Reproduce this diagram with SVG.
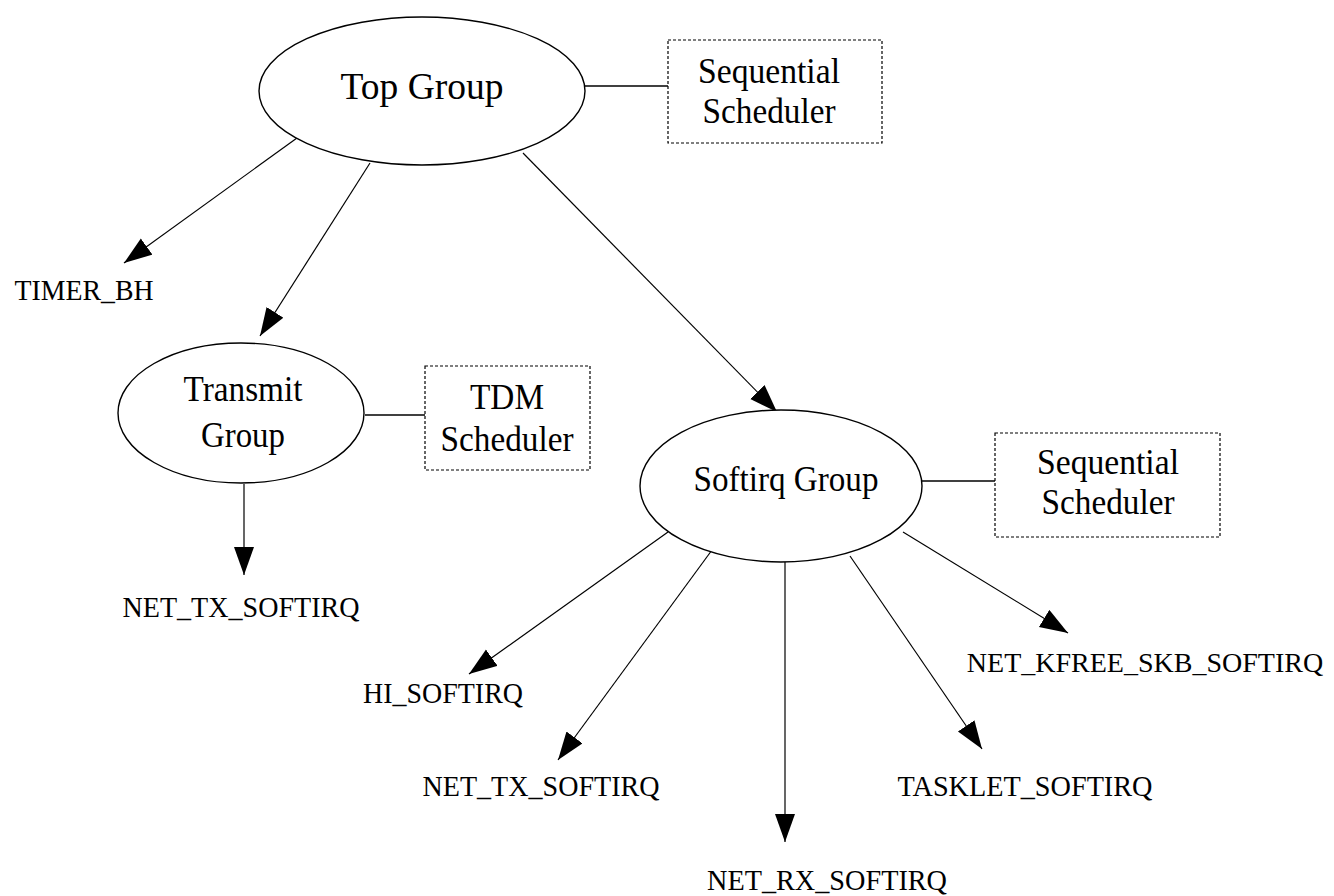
<svg xmlns="http://www.w3.org/2000/svg" width="1334" height="896" viewBox="0 0 1334 896">
  <style>
    .grp { fill: #ffffff; stroke: #000000; stroke-width: 1.4; }
    .sched { fill: #ffffff; stroke: #000000; stroke-width: 1.2; stroke-dasharray: 3 2; }
    .big { font-family: "Liberation Serif", "Times New Roman", serif; font-size: 36px; fill: #000000; text-anchor: middle; }
    .lbl { font-family: "Liberation Serif", "Times New Roman", serif; font-size: 30px; fill: #000000; text-anchor: middle; }
    .edge { stroke: #000000; stroke-width: 1.2; fill: none; marker-end: url(#arrow); }
    .link { stroke: #000000; stroke-width: 1.3; fill: none; }
  </style>
  <defs>
    <marker id="arrow" markerUnits="userSpaceOnUse" markerWidth="30" markerHeight="22" refX="28" refY="10" orient="auto">
      <path d="M0,0 L28,10 L0,20 Z" fill="#000000"/>
    </marker>
  </defs>
  <rect width="1334" height="896" fill="#ffffff"/>

  <!-- connectors: arrows to children, plain lines to schedulers -->
  <g id="connectors">
    <line class="edge" x1="297" y1="138" x2="124" y2="263"/>
    <line class="edge" x1="370" y1="163" x2="260" y2="336"/>
    <line class="edge" x1="523" y1="153" x2="777" y2="412"/>
    <line class="edge" x1="244" y1="484" x2="244" y2="575"/>
    <line class="edge" x1="668" y1="532" x2="469" y2="674"/>
    <line class="edge" x1="712" y1="550" x2="558" y2="760"/>
    <line class="edge" x1="785" y1="562" x2="785" y2="842"/>
    <line class="edge" x1="850" y1="556" x2="982" y2="749"/>
    <line class="edge" x1="903" y1="532" x2="1068" y2="633"/>
    <line class="link" x1="585" y1="86" x2="668" y2="86"/>
    <line class="link" x1="365" y1="415" x2="425" y2="415"/>
    <line class="link" x1="922" y1="481" x2="995" y2="481"/>
  </g>

  <g id="top-group">
    <ellipse class="grp" cx="422" cy="91" rx="163" ry="74"/>
    <text class="big" x="422" y="99" style="font-size:38px" textLength="163" lengthAdjust="spacingAndGlyphs">Top Group</text>
  </g>

  <g id="top-scheduler">
    <rect class="sched" x="668" y="40" width="214" height="103"/>
    <text class="big" x="769" y="83" textLength="142" lengthAdjust="spacingAndGlyphs">Sequential</text>
    <text class="big" x="769" y="123" textLength="133" lengthAdjust="spacingAndGlyphs">Scheduler</text>
  </g>

  <g id="timer-bh">
    <text class="lbl" x="84" y="300" textLength="139" lengthAdjust="spacingAndGlyphs">TIMER_BH</text>
  </g>

  <g id="transmit-group">
    <ellipse class="grp" cx="241" cy="413" rx="123" ry="70"/>
    <text class="big" x="243" y="401" textLength="119" lengthAdjust="spacingAndGlyphs">Transmit</text>
    <text class="big" x="243" y="447" textLength="84" lengthAdjust="spacingAndGlyphs">Group</text>
  </g>

  <g id="tdm-scheduler">
    <rect class="sched" x="425" y="366" width="165" height="104"/>
    <text class="big" x="507" y="409" textLength="74" lengthAdjust="spacingAndGlyphs">TDM</text>
    <text class="big" x="507" y="451" textLength="133" lengthAdjust="spacingAndGlyphs">Scheduler</text>
  </g>

  <g id="net-tx-softirq-1">
    <text class="lbl" x="241" y="617" textLength="237" lengthAdjust="spacingAndGlyphs">NET_TX_SOFTIRQ</text>
  </g>

  <g id="softirq-group">
    <ellipse class="grp" cx="781" cy="486" rx="141" ry="76"/>
    <text class="big" x="786" y="491" textLength="185" lengthAdjust="spacingAndGlyphs">Softirq Group</text>
  </g>

  <g id="softirq-scheduler">
    <rect class="sched" x="995" y="433" width="225" height="104"/>
    <text class="big" x="1108" y="474" textLength="142" lengthAdjust="spacingAndGlyphs">Sequential</text>
    <text class="big" x="1108" y="514" textLength="133" lengthAdjust="spacingAndGlyphs">Scheduler</text>
  </g>

  <g id="hi-softirq">
    <text class="lbl" x="443" y="703" textLength="160" lengthAdjust="spacingAndGlyphs">HI_SOFTIRQ</text>
  </g>

  <g id="net-tx-softirq-2">
    <text class="lbl" x="541" y="796" textLength="237" lengthAdjust="spacingAndGlyphs">NET_TX_SOFTIRQ</text>
  </g>

  <g id="net-rx-softirq">
    <text class="lbl" x="827" y="890" textLength="240" lengthAdjust="spacingAndGlyphs">NET_RX_SOFTIRQ</text>
  </g>

  <g id="tasklet-softirq">
    <text class="lbl" x="1025" y="796" textLength="255" lengthAdjust="spacingAndGlyphs">TASKLET_SOFTIRQ</text>
  </g>

  <g id="net-kfree-skb-softirq">
    <text class="lbl" x="1145" y="672" style="font-size:28px">NET_KFREE_SKB_SOFTIRQ</text>
  </g>
</svg>
